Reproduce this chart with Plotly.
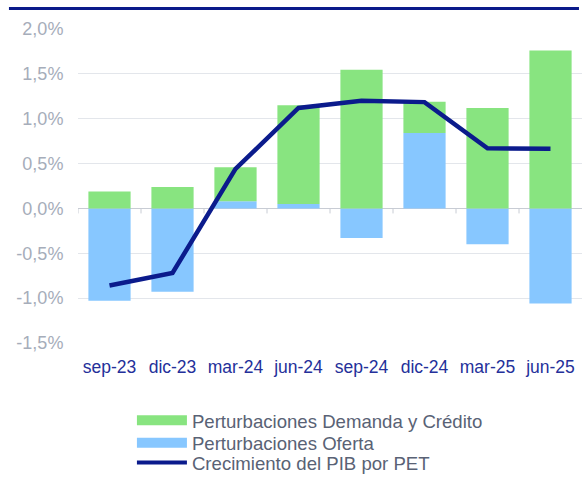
import plotly.graph_objects as go

categories = ["sep-23", "dic-23", "mar-24", "jun-24", "sep-24", "dic-24", "mar-25", "jun-25"]
# Demand & credit shocks: stacked on top of supply where supply is positive
demanda_credito = [0.19, 0.24, 0.38, 1.10, 1.545, 0.35, 1.12, 1.76]
oferta = [-1.03, -0.93, 0.08, 0.05, -0.33, 0.84, -0.40, -1.06]
pib_pet = [-0.86, -0.72, 0.44, 1.12, 1.20, 1.185, 0.67, 0.665]

y_ticks = [-1.5, -1.0, -0.5, 0.0, 0.5, 1.0, 1.5, 2.0]
y_tick_labels = ["-1,5%", "-1,0%", "-0,5%", "0,0%", "0,5%", "1,0%", "1,5%", "2,0%"]

GREEN = "#88E480"
BLUE = "#87C7FF"
NAVY = "#0B1B8C"
FONT = "Liberation Sans, Arial, sans-serif"

fig = go.Figure()

fig.add_trace(go.Bar(x=categories, y=oferta, marker=dict(color=BLUE, line=dict(width=0)),
                     name="Perturbaciones Oferta", showlegend=False))
fig.add_trace(go.Bar(x=categories, y=demanda_credito, marker=dict(color=GREEN, line=dict(width=0)),
                     name="Perturbaciones Demanda y Crédito", showlegend=False))
fig.add_trace(go.Scatter(x=categories, y=pib_pet, mode="lines",
                         line=dict(color=NAVY, width=4.5), name="Crecimiento del PIB por PET",
                         showlegend=False))

# legend-only entries (wide swatches), each in its own legend box for exact spacing
fig.add_trace(go.Scatter(x=[categories[0]], y=[None], mode="lines",
                         line=dict(color=GREEN, width=10), name="Perturbaciones Demanda y Crédito",
                         legend="legend"))
fig.add_trace(go.Scatter(x=[categories[0]], y=[None], mode="lines",
                         line=dict(color=BLUE, width=10), name="Perturbaciones Oferta",
                         legend="legend2"))
fig.add_trace(go.Scatter(x=[categories[0]], y=[None], mode="lines",
                         line=dict(color=NAVY, width=4), name="Crecimiento del PIB por PET",
                         legend="legend3"))

shapes = []
# category boundary ticks on the zero line
for i in range(len(categories)):
    shapes.append(dict(type="line", xref="x", yref="y", ysizemode="pixel", yanchor=0,
                       x0=i - 0.5, x1=i - 0.5, y0=0, y1=-5,
                       line=dict(color="#C8CCD4", width=1)))
# top navy rule
shapes.append(dict(type="line", xref="paper", yref="paper",
                   x0=-0.137, x1=0.994, y0=1.065, y1=1.065,
                   line=dict(color="#0A1A8A", width=3)))

PLOT_BOTTOM = 344.3
PLOT_H = 315.0

def legend_box(ypx):
    return dict(x=0.107, xanchor="left",
                y=(PLOT_BOTTOM - ypx) / PLOT_H, yanchor="middle",
                font=dict(size=18.6, color="#596275", family=FONT),
                itemwidth=50, bgcolor="rgba(0,0,0,0)")

fig.update_layout(
    width=582, height=482,
    margin=dict(l=78, r=0, t=29, b=138),
    paper_bgcolor="white", plot_bgcolor="white",
    barmode="relative", bargap=0.33,
    font=dict(family=FONT),
    shapes=shapes,
    legend=legend_box(421),
    legend2=legend_box(443.5),
    legend3=legend_box(464),
    xaxis=dict(showgrid=False, showline=False, ticks="outside", ticklen=8,
               tickcolor="rgba(0,0,0,0)", tickfont=dict(size=17.5, color="#24309A"),
               range=[-0.5, 7.5]),
    yaxis=dict(range=[-1.5, 2.0], tickmode="array", tickvals=y_ticks, ticktext=y_tick_labels,
               showgrid=True, gridcolor="#E3E6EB", gridwidth=1,
               zeroline=True, zerolinecolor="#C8CCD4", zerolinewidth=1,
               showline=False, ticks="outside", ticklen=10, tickcolor="rgba(0,0,0,0)",
               tickfont=dict(size=18, color="#A6ADBA")),
)

fig.write_html("out.html", config={"displayModeBar": False},
               post_script="document.body.style.margin='0';")
